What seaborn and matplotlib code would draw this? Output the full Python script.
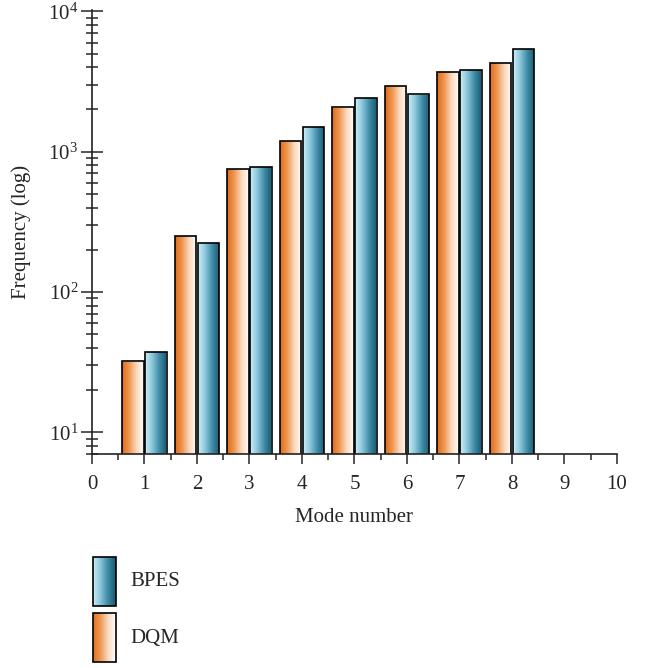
import numpy as np
import pandas as pd
import seaborn as sns
import matplotlib
matplotlib.use("Agg")
import matplotlib.pyplot as plt
import matplotlib.transforms as mtransforms
from matplotlib.colors import LinearSegmentedColormap
from matplotlib.patches import Rectangle
from matplotlib.ticker import LogLocator, MultipleLocator, NullFormatter

# Data
modes = [1, 2, 3, 4, 5, 6, 7, 8]
dqm = [32, 251, 756, 1199, 2075, 2961, 3709, 4305]
bpes = [37.5, 224, 781, 1509, 2417, 2570, 3838, 5418]

df = pd.DataFrame({
    "mode": modes * 2,
    "freq": dqm + bpes,
    "method": ["DQM"] * len(modes) + ["BPES"] * len(modes),
})

orange_cmap = LinearSegmentedColormap.from_list(
    "org", [(0, "#E36F1B"), (0.3, "#EE9550"), (0.65, "#FAD9BE"), (1, "#FFFFFF")])
blue_cmap = LinearSegmentedColormap.from_list(
    "blu", [(0, "#C9ECF6"), (0.3, "#8CC8DC"), (0.65, "#3E8AA5"), (1, "#175770")])
cmaps = {"DQM": orange_cmap, "BPES": blue_cmap}
grad = np.linspace(0, 1, 256).reshape(1, -1)

sns.set_style("ticks")
plt.rcParams["font.family"] = ["Liberation Serif", "DejaVu Serif"]
plt.rcParams["font.size"] = 15

fig = plt.figure(figsize=(6.46, 6.68), dpi=100)
ax = fig.add_axes([0.1424, 0.3204, 0.8127, 0.6646])

sns.barplot(data=df, x="mode", y="freq", hue="method", hue_order=["DQM", "BPES"],
            native_scale=True, width=0.88, gap=0.06, log_scale=(False, True),
            edgecolor="black", linewidth=1.2, legend=False, ax=ax)

ax.set_xlim(0, 10)
ax.set_ylim(7, 10 ** 4.01)

# bars start at 0, which a log axis cannot show; move the base below the axis
# and paint a horizontal gradient into each bar
trans = mtransforms.blended_transform_factory(ax.transData, ax.transAxes)
n = len(modes)
for i, patch in enumerate(ax.patches[:2 * n]):
    method = "DQM" if i < n else "BPES"
    top = patch.get_y() + patch.get_height()
    patch.set_y(1)
    patch.set_height(top - 1)
    x0 = patch.get_x()
    x1 = x0 + patch.get_width()
    im = ax.imshow(grad, cmap=cmaps[method], aspect="auto", extent=[x0, x1, 0, 1],
                   transform=trans, interpolation="bilinear", zorder=patch.get_zorder())
    im.set_clip_path(patch)
    patch.set_facecolor("none")
    patch.set_zorder(patch.get_zorder() + 0.1)
ax.set_xlim(0, 10)
ax.set_ylim(7, 10 ** 4.01)

sns.despine(ax=ax)
for s in ["left", "bottom"]:
    ax.spines[s].set_linewidth(1.2)
    ax.spines[s].set_color("#222222")

ax.xaxis.set_major_locator(MultipleLocator(1))
ax.xaxis.set_minor_locator(MultipleLocator(0.5))
ax.tick_params(axis="x", which="major", direction="out", length=7, width=1.1, pad=8)
ax.tick_params(axis="x", which="minor", direction="out", length=4, width=1.1)
ax.yaxis.set_major_locator(LogLocator(base=10, numticks=10))
ax.yaxis.set_minor_locator(LogLocator(base=10, subs=np.arange(2, 10), numticks=20))
ax.yaxis.set_minor_formatter(NullFormatter())
ax.tick_params(axis="y", which="major", direction="inout", length=16, width=1.1, pad=2)
ax.tick_params(axis="y", which="minor", direction="inout", length=8, width=1.1)

ax.set_xlabel("Mode number", labelpad=10)
ax.set_ylabel("Frequency (log)", labelpad=12)

# legend drawn below the chart
lax = fig.add_axes([0, 0, 1, 1], facecolor="none")
lax.set_xlim(0, 646)
lax.set_ylim(668, 0)
lax.axis("off")
for (name, y0) in [("BPES", 557), ("DQM", 613)]:
    rect = Rectangle((93, y0), 23, 49, facecolor="none", edgecolor="black", linewidth=1.2, zorder=3)
    lax.add_patch(rect)
    im = lax.imshow(grad, cmap=cmaps[name], aspect="auto", extent=[93, 116, y0 + 49, y0],
                    interpolation="bilinear", zorder=2)
    im.set_clip_path(rect)
    lax.text(130, y0 + 25, name, va="center", ha="left", fontsize=15)
lax.set_xlim(0, 646)
lax.set_ylim(668, 0)

fig.savefig("out.png", dpi=100)
